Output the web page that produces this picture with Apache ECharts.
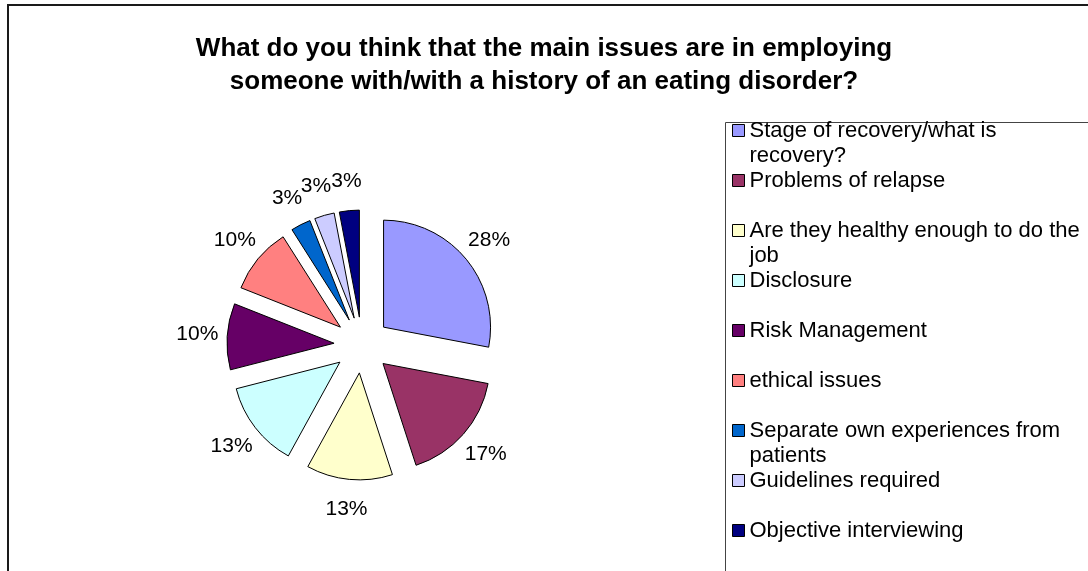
<!DOCTYPE html>
<html lang="en">
<head>
    <meta charset="UTF-8">
    <title>Main issues in employing someone with a history of an eating disorder</title>
    <script src="https://cdn.jsdelivr.net/npm/echarts@6/dist/echarts.min.js"></script>
    <style>
        html, body { margin: 0; padding: 0; background: #fff; }
        #main { width: 1088px; height: 571px; }
    </style>
</head>
<body>
    <div id="main"></div>
<script>
    var FONT = '"Liberation Sans", Arial, sans-serif';

    // chart text + data
    var titleText = 'What do you think that the main issues are in employing\nsomeone with/with a history of an eating disorder?';
    var categories = [
        'Stage of recovery/what is recovery?',
        'Problems of relapse',
        'Are they healthy enough to do the job',
        'Disclosure',
        'Risk Management',
        'ethical issues',
        'Separate own experiences from patients',
        'Guidelines required',
        'Objective interviewing'
    ];
    // legend wraps the way the original does
    var legendLines = [
        'Stage of recovery/what is\nrecovery?',
        'Problems of relapse',
        'Are they healthy enough to do the\njob',
        'Disclosure',
        'Risk Management',
        'ethical issues',
        'Separate own experiences from\npatients',
        'Guidelines required',
        'Objective interviewing'
    ];
    var percents = [28, 17, 13, 13, 10, 10, 3, 3, 3];
    var colors = ['#9999FF', '#993366', '#FFFFCC', '#CCFFFF', '#660066', '#FF8080', '#0066CC', '#CCCCFF', '#000080'];

    var myChart = echarts.init(document.getElementById('main'));

    var option = {
        animation: false,
        color: colors,
        title: {
            text: titleText,
            left: 'center',
            top: 32,
            padding: 0,
            textStyle: {
                fontFamily: FONT,
                fontSize: 26,
                fontWeight: 'bold',
                lineHeight: 33,
                color: '#000'
            }
        },
        legend: {
            orient: 'vertical',
            left: 732,
            top: 93,
            height: 600,
            padding: 0,
            icon: 'rect',
            itemWidth: 12,
            itemHeight: 12,
            itemGap: -25,
            selectedMode: false,
            itemStyle: { borderColor: '#000', borderWidth: 1 },
            // every entry is 3 lines (blank, text, wrap) so the key sits
            // beside the first text line like in the original
            formatter: function (name) {
                var s = legendLines[categories.indexOf(name)];
                return ' \n' + s + (s.indexOf('\n') < 0 ? '\n ' : '');
            },
            textStyle: {
                fontFamily: FONT,
                fontSize: 22,
                lineHeight: 25,
                color: '#000'
            },
            data: categories
        },
        graphic: [
            {
                // chart area frame
                type: 'rect',
                silent: true,
                z: -1,
                shape: { x: 8, y: 5, width: 1200, height: 700 },
                style: { fill: 'none', stroke: '#1a1a1a', lineWidth: 2 }
            },
            {
                // legend frame
                type: 'rect',
                silent: true,
                z: -1,
                shape: { x: 725.5, y: 122.5, width: 500, height: 600 },
                style: { fill: 'none', stroke: '#444', lineWidth: 1 }
            }
        ],
        series: [{
            type: 'pie',
            center: [362, 345],
            radius: 107,
            startAngle: 90,
            clockwise: true,
            selectedMode: 'multiple',
            selectedOffset: 28,
            avoidLabelOverlap: false,
            itemStyle: { borderColor: '#000', borderWidth: 1 },
            emphasis: { disabled: true },
            label: {
                show: true,
                position: 'outside',
                formatter: '{c}%',
                fontFamily: FONT,
                fontSize: 21,
                color: '#000',
                distanceToLabelLine: 0
            },
            labelLine: { show: false, length: 30, length2: 0 },
            labelLayout: { align: 'center', hideOverlap: false },
            data: categories.map(function (c, i) {
                return { name: c, value: percents[i], selected: true };
            })
        }]
    };

    myChart.setOption(option);
</script>
</body>
</html>
